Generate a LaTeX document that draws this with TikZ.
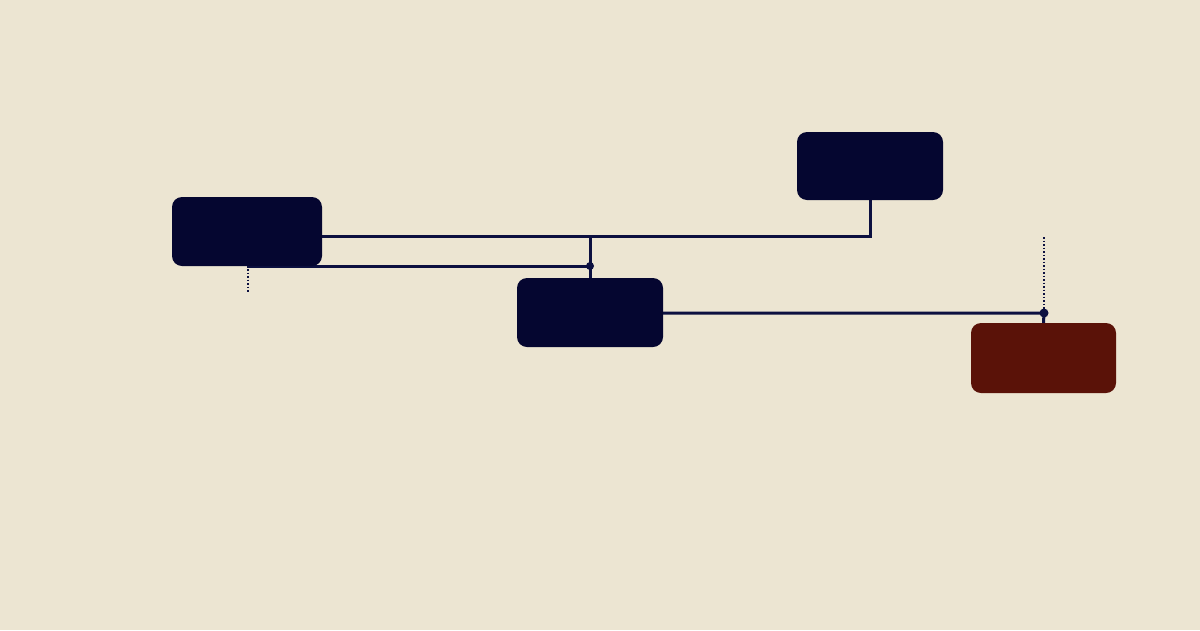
\documentclass[tikz,border=0pt]{standalone}
\definecolor{paper}{HTML}{ECE5D2}
\definecolor{navy}{HTML}{050630}
\definecolor{wire}{HTML}{0C1040}
\definecolor{rust}{HTML}{5A1208}
\pgfdeclarelayer{bg}
\pgfsetlayers{bg,main}
\begin{document}
\begin{tikzpicture}[x=1pt,y=-1pt,
  blockbox/.style={draw=none,rounded corners=10pt,minimum width=#1,inner sep=0pt,outer sep=0pt},
  navybox/.style={blockbox=146pt,fill=navy,minimum height=69pt},
  rustbox/.style={blockbox=145pt,fill=rust,minimum height=70pt},
  wireline/.style={draw=wire,line width=3pt},
  dotline/.style={draw=wire,line width=1.1pt,dash pattern=on 1.5pt off 2pt},
  joint/.style={circle,fill=wire,inner sep=0pt,minimum size=#1}]
\useasboundingbox (0,0) rectangle (1200,630);
\node[navybox,minimum width=150pt] (A) at (247,231.5) {};
\node[navybox,minimum height=68pt] (B) at (870,166) {};
\node[navybox] (C) at (590,312.5) {};
\node[rustbox] (D) at (1043.5,358) {};
\coordinate (l1) at (590,236);
\node[joint=8pt] (j2) at (590,266) {};
\node[joint=9pt] (j3) at (1044,313) {};
\coordinate (dtop) at (1044,237);
\coordinate (s1) at (248,269);
\coordinate (s2) at (248,292);
\begin{pgfonlayer}{bg}
\fill[paper] (0,0) rectangle (1200,630);
\draw[wireline] (A.center |- l1) -| (B.south);
\draw[wireline] (l1) -- (C.north);
\draw[wireline] (A.center |- j2) -- (j2.center);
\draw[wireline] (C.center |- j3) -- (j3.center) -- (D.north);
\draw[dotline] (dtop) -- (j3.center);
\draw[dotline] (s1) -- (s2);
\end{pgfonlayer}
\end{tikzpicture}
\end{document}
